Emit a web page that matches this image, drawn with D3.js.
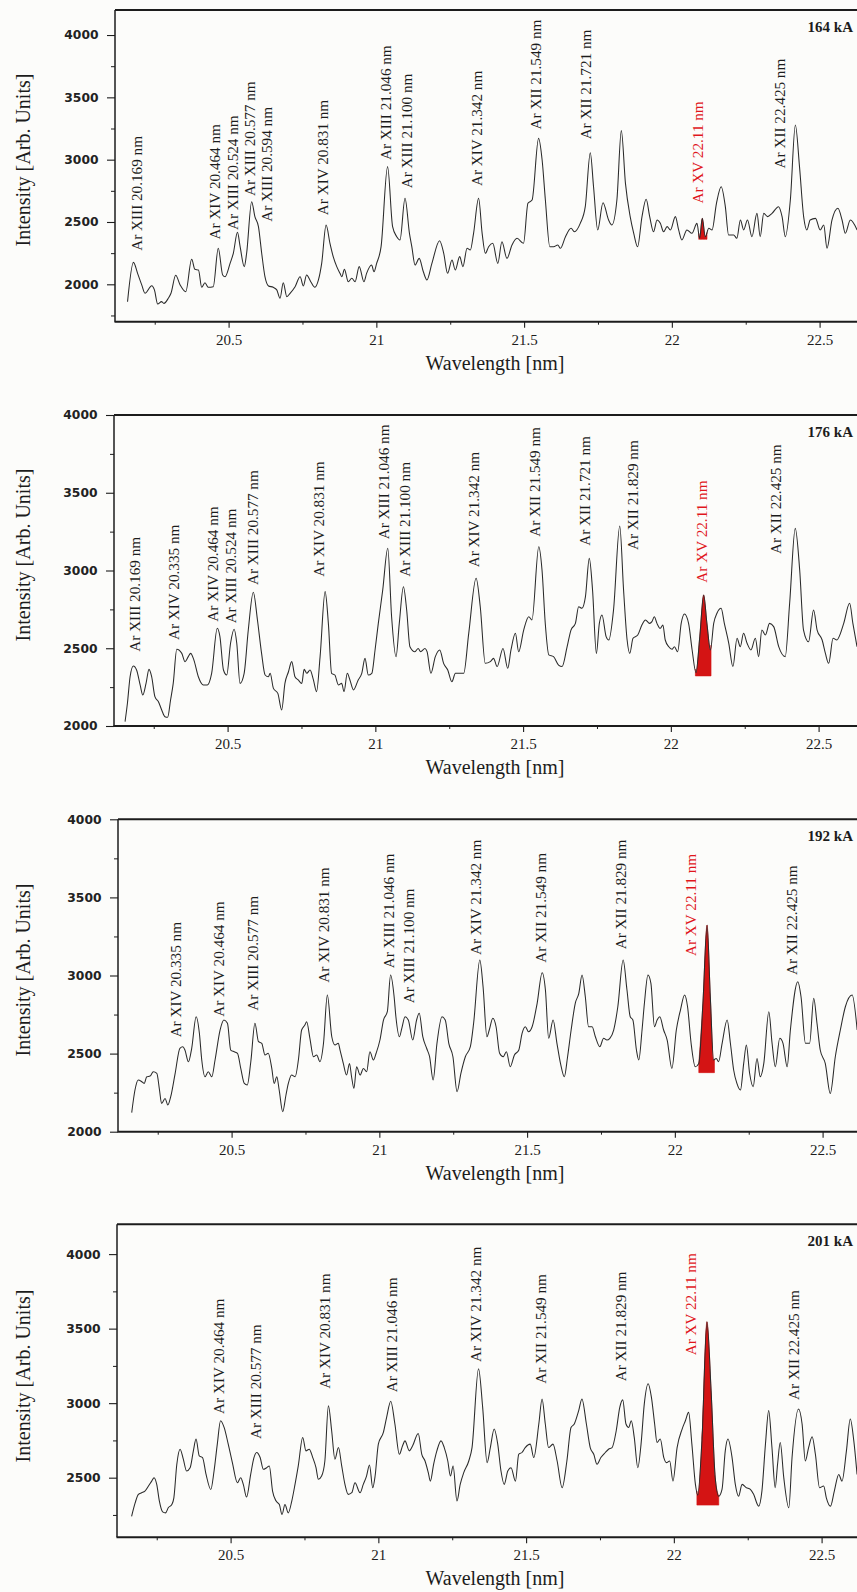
<!DOCTYPE html>
<html><head><meta charset="utf-8">
<script src="https://cdn.jsdelivr.net/npm/d3@7"></script>
<style>body{margin:0;background:#fcfcfa}svg{display:block}</style>
</head><body><svg id="c" width="857" height="1592"></svg>
<script>
// ---------- DATA ----------
const currents = ["164 kA", "176 kA", "192 kA", "201 kA"];
const yDomains = [[1700, 4200], [2000, 4000], [2000, 4000], [2100, 4200]];
const xMajorTicks = [20.5, 21, 21.5, 22, 22.5];
const xMinorTicks = [20.25, 20.75, 21.25, 21.75, 22.25];
const highlightLine = "Ar XV 22.11 nm";
// [from wavelength, to wavelength, base intensity] of the shaded Ar XV line
const highlightBands = [[22.091, 22.119, 2361], [22.083, 22.136, 2322], [22.081, 22.134, 2378], [22.078, 22.152, 2316]];

const spectrum164 = [[20.158,1860],[20.178,2176],[20.192,2088],[20.206,1995],[20.217,1928],[20.240,1989],[20.249,1955],[20.260,1842],[20.273,1861],[20.281,1847],[20.296,1888],[20.305,1928],[20.321,2072],[20.336,1995],[20.355,1941],[20.375,2201],[20.386,2120],[20.398,2115],[20.409,1976],[20.420,2013],[20.431,1976],[20.448,1981],[20.465,2289],[20.480,2075],[20.488,2061],[20.505,2168],[20.516,2249],[20.530,2417],[20.539,2302],[20.553,2142],[20.561,2249],[20.578,2663],[20.589,2543],[20.601,2463],[20.612,2249],[20.623,2061],[20.635,1987],[20.651,1976],[20.663,1955],[20.674,1888],[20.685,2013],[20.697,1901],[20.708,1928],[20.725,1981],[20.742,2061],[20.753,1987],[20.764,2075],[20.778,2021],[20.792,1976],[20.804,2035],[20.815,2168],[20.830,2476],[20.843,2329],[20.854,2222],[20.866,2142],[20.877,2088],[20.883,2061],[20.892,2120],[20.905,2021],[20.917,2048],[20.928,2021],[20.942,2142],[20.958,2021],[20.967,2088],[20.984,2155],[20.992,2101],[21.001,2168],[21.016,2302],[21.038,2944],[21.055,2463],[21.069,2382],[21.080,2356],[21.097,2690],[21.112,2409],[21.120,2302],[21.131,2155],[21.145,2208],[21.159,2101],[21.171,2035],[21.188,2168],[21.214,2350],[21.228,2249],[21.241,2088],[21.256,2195],[21.267,2115],[21.282,2222],[21.293,2142],[21.307,2289],[21.318,2275],[21.329,2409],[21.346,2690],[21.358,2409],[21.369,2249],[21.380,2302],[21.394,2329],[21.411,2168],[21.425,2342],[21.442,2208],[21.459,2315],[21.476,2369],[21.498,2329],[21.513,2650],[21.527,2676],[21.549,3171],[21.561,2997],[21.572,2676],[21.587,2302],[21.600,2302],[21.614,2315],[21.623,2289],[21.640,2382],[21.659,2449],[21.670,2422],[21.690,2489],[21.707,2623],[21.724,3056],[21.735,2783],[21.749,2436],[21.767,2655],[21.786,2516],[21.797,2476],[21.814,2676],[21.829,3233],[21.843,2810],[21.859,2543],[21.871,2409],[21.884,2302],[21.899,2543],[21.913,2682],[21.925,2543],[21.938,2422],[21.950,2516],[21.961,2489],[21.972,2422],[21.984,2463],[21.995,2436],[22.012,2543],[22.023,2436],[22.034,2356],[22.051,2436],[22.068,2409],[22.085,2489],[22.094,2369],[22.103,2529],[22.113,2382],[22.125,2449],[22.136,2436],[22.151,2650],[22.167,2783],[22.181,2623],[22.192,2396],[22.209,2396],[22.220,2369],[22.232,2516],[22.243,2436],[22.256,2516],[22.271,2382],[22.288,2569],[22.299,2382],[22.311,2569],[22.324,2543],[22.339,2569],[22.361,2623],[22.373,2543],[22.384,2382],[22.401,2676],[22.418,3278],[22.432,2944],[22.446,2543],[22.457,2436],[22.468,2516],[22.486,2529],[22.502,2436],[22.514,2476],[22.525,2289],[22.542,2516],[22.562,2610],[22.576,2516],[22.587,2409],[22.604,2516],[22.627,2436]];

const spectrum176 = [[20.153,2028],[20.161,2146],[20.170,2317],[20.181,2386],[20.192,2360],[20.204,2264],[20.213,2199],[20.224,2274],[20.234,2364],[20.243,2317],[20.254,2189],[20.266,2156],[20.277,2103],[20.288,2060],[20.297,2056],[20.307,2167],[20.316,2274],[20.328,2493],[20.345,2467],[20.356,2414],[20.367,2446],[20.375,2467],[20.386,2424],[20.401,2317],[20.418,2264],[20.431,2264],[20.446,2339],[20.465,2628],[20.474,2575],[20.486,2360],[20.497,2328],[20.510,2532],[20.522,2622],[20.531,2532],[20.542,2274],[20.556,2339],[20.570,2617],[20.587,2860],[20.601,2682],[20.615,2467],[20.627,2328],[20.638,2317],[20.644,2339],[20.655,2242],[20.670,2210],[20.683,2103],[20.694,2274],[20.706,2349],[20.717,2414],[20.728,2317],[20.739,2296],[20.751,2274],[20.759,2364],[20.768,2339],[20.779,2360],[20.790,2300],[20.801,2221],[20.813,2446],[20.830,2864],[20.841,2660],[20.852,2339],[20.863,2328],[20.875,2264],[20.886,2274],[20.894,2221],[20.905,2339],[20.914,2296],[20.926,2232],[20.942,2296],[20.954,2339],[20.965,2435],[20.976,2328],[20.988,2339],[20.999,2489],[21.010,2660],[21.025,2875],[21.042,3143],[21.055,2703],[21.070,2446],[21.081,2660],[21.095,2896],[21.106,2746],[21.117,2510],[21.134,2478],[21.145,2499],[21.153,2478],[21.168,2499],[21.175,2478],[21.188,2339],[21.203,2446],[21.218,2489],[21.231,2403],[21.245,2360],[21.259,2285],[21.271,2339],[21.288,2339],[21.299,2339],[21.316,2596],[21.341,2950],[21.355,2767],[21.372,2403],[21.389,2414],[21.400,2435],[21.412,2382],[21.432,2499],[21.448,2371],[21.459,2489],[21.474,2596],[21.485,2478],[21.502,2617],[21.519,2703],[21.530,2682],[21.553,3153],[21.564,3003],[21.575,2660],[21.587,2457],[21.603,2446],[21.620,2392],[21.632,2382],[21.649,2510],[21.662,2617],[21.677,2660],[21.688,2767],[21.699,2757],[21.711,2832],[21.724,3078],[21.735,2875],[21.748,2467],[21.758,2660],[21.767,2714],[21.781,2575],[21.790,2553],[21.806,2746],[21.827,3286],[21.840,2875],[21.852,2553],[21.861,2467],[21.872,2564],[21.888,2585],[21.902,2649],[21.914,2682],[21.928,2660],[21.936,2671],[21.944,2703],[21.953,2660],[21.964,2628],[21.973,2649],[21.981,2553],[21.993,2510],[22.004,2493],[22.012,2510],[22.023,2478],[22.035,2660],[22.046,2720],[22.060,2660],[22.072,2489],[22.085,2343],[22.098,2575],[22.111,2843],[22.122,2660],[22.134,2489],[22.145,2660],[22.156,2725],[22.170,2757],[22.181,2660],[22.196,2532],[22.210,2382],[22.224,2564],[22.235,2510],[22.246,2596],[22.258,2532],[22.271,2489],[22.286,2564],[22.297,2446],[22.308,2617],[22.320,2585],[22.334,2660],[22.348,2639],[22.365,2510],[22.387,2446],[22.402,2789],[22.421,3271],[22.436,3003],[22.449,2617],[22.466,2542],[22.483,2746],[22.495,2617],[22.512,2553],[22.523,2467],[22.534,2403],[22.549,2564],[22.562,2553],[22.574,2596],[22.585,2660],[22.605,2789],[22.616,2660],[22.630,2510]];

const spectrum192 = [[20.162,2122],[20.173,2267],[20.184,2331],[20.196,2320],[20.204,2309],[20.213,2352],[20.224,2356],[20.235,2384],[20.247,2374],[20.256,2267],[20.263,2181],[20.275,2213],[20.284,2171],[20.294,2224],[20.309,2374],[20.325,2534],[20.335,2544],[20.342,2523],[20.354,2448],[20.365,2534],[20.380,2736],[20.391,2630],[20.399,2459],[20.410,2352],[20.421,2384],[20.433,2352],[20.444,2459],[20.461,2651],[20.474,2715],[20.486,2694],[20.497,2523],[20.509,2512],[20.520,2502],[20.531,2405],[20.543,2309],[20.553,2299],[20.565,2448],[20.579,2694],[20.591,2576],[20.602,2566],[20.613,2491],[20.624,2502],[20.636,2405],[20.644,2309],[20.653,2352],[20.661,2267],[20.673,2128],[20.684,2235],[20.692,2309],[20.703,2363],[20.715,2352],[20.726,2459],[20.737,2651],[20.748,2683],[20.754,2704],[20.765,2598],[20.777,2480],[20.788,2491],[20.799,2448],[20.811,2566],[20.824,2875],[20.839,2608],[20.850,2555],[20.861,2566],[20.867,2523],[20.878,2437],[20.889,2363],[20.899,2437],[20.906,2352],[20.914,2277],[20.923,2416],[20.935,2363],[20.946,2405],[20.957,2384],[20.968,2512],[20.980,2459],[20.989,2502],[21.002,2587],[21.014,2715],[21.027,2768],[21.038,3003],[21.050,2864],[21.056,2736],[21.068,2608],[21.076,2662],[21.087,2736],[21.098,2715],[21.113,2587],[21.126,2715],[21.135,2758],[21.147,2608],[21.160,2534],[21.170,2480],[21.182,2331],[21.195,2566],[21.212,2736],[21.223,2715],[21.235,2566],[21.249,2480],[21.263,2256],[21.276,2374],[21.291,2480],[21.308,2544],[21.319,2694],[21.340,3099],[21.351,2928],[21.364,2608],[21.372,2651],[21.384,2726],[21.395,2672],[21.407,2502],[21.419,2480],[21.430,2512],[21.443,2416],[21.457,2491],[21.472,2523],[21.483,2630],[21.494,2672],[21.505,2640],[21.517,2672],[21.534,2822],[21.551,3018],[21.562,2907],[21.573,2598],[21.588,2715],[21.601,2566],[21.613,2437],[21.626,2352],[21.637,2480],[21.649,2651],[21.663,2822],[21.675,2886],[21.686,3003],[21.697,2864],[21.708,2672],[21.720,2672],[21.731,2608],[21.746,2544],[21.759,2598],[21.770,2587],[21.780,2598],[21.793,2651],[21.807,2800],[21.825,3099],[21.838,2907],[21.849,2736],[21.858,2715],[21.870,2523],[21.878,2459],[21.889,2651],[21.897,2822],[21.909,3003],[21.919,2950],[21.931,2672],[21.940,2715],[21.949,2736],[21.962,2651],[21.974,2587],[21.990,2405],[22.005,2651],[22.019,2779],[22.033,2875],[22.043,2800],[22.055,2566],[22.069,2416],[22.081,2437],[22.095,2822],[22.109,3323],[22.120,2864],[22.131,2459],[22.140,2469],[22.148,2448],[22.160,2566],[22.177,2715],[22.188,2566],[22.199,2395],[22.210,2309],[22.222,2267],[22.233,2437],[22.242,2555],[22.253,2374],[22.265,2288],[22.278,2469],[22.289,2352],[22.301,2437],[22.318,2768],[22.329,2566],[22.340,2416],[22.355,2598],[22.366,2566],[22.380,2416],[22.391,2651],[22.416,2960],[22.427,2864],[22.442,2566],[22.456,2566],[22.470,2854],[22.481,2694],[22.492,2523],[22.509,2437],[22.526,2245],[22.543,2480],[22.560,2651],[22.577,2800],[22.600,2875],[22.617,2651]];

const spectrum201 = [[20.165,2241],[20.177,2331],[20.188,2388],[20.199,2399],[20.210,2410],[20.222,2444],[20.233,2477],[20.241,2500],[20.250,2455],[20.259,2343],[20.270,2271],[20.280,2264],[20.289,2298],[20.301,2320],[20.308,2365],[20.318,2590],[20.329,2691],[20.340,2624],[20.351,2545],[20.363,2567],[20.374,2680],[20.383,2759],[20.394,2646],[20.405,2635],[20.417,2522],[20.433,2421],[20.444,2545],[20.455,2725],[20.466,2882],[20.478,2837],[20.492,2725],[20.506,2601],[20.523,2466],[20.534,2500],[20.543,2455],[20.554,2370],[20.568,2522],[20.579,2635],[20.588,2669],[20.600,2635],[20.611,2556],[20.622,2567],[20.631,2579],[20.642,2410],[20.654,2343],[20.665,2320],[20.674,2253],[20.684,2320],[20.695,2264],[20.707,2343],[20.718,2455],[20.729,2579],[20.744,2770],[20.755,2680],[20.766,2691],[20.778,2635],[20.789,2567],[20.797,2489],[20.808,2511],[20.819,2612],[20.831,2983],[20.842,2815],[20.853,2624],[20.865,2702],[20.876,2579],[20.887,2455],[20.898,2388],[20.910,2399],[20.921,2466],[20.938,2399],[20.949,2455],[20.960,2511],[20.970,2585],[20.981,2433],[20.989,2511],[21.000,2725],[21.017,2804],[21.028,2905],[21.042,3013],[21.056,2860],[21.071,2657],[21.082,2714],[21.090,2747],[21.105,2680],[21.116,2714],[21.135,2797],[21.147,2657],[21.158,2612],[21.169,2534],[21.176,2477],[21.187,2590],[21.198,2680],[21.212,2747],[21.223,2702],[21.235,2612],[21.244,2511],[21.253,2579],[21.266,2343],[21.277,2455],[21.289,2534],[21.306,2612],[21.317,2702],[21.339,3231],[21.353,2972],[21.368,2601],[21.379,2702],[21.392,2826],[21.404,2725],[21.415,2545],[21.426,2455],[21.438,2545],[21.449,2567],[21.464,2477],[21.475,2657],[21.486,2669],[21.497,2702],[21.514,2725],[21.526,2635],[21.543,2860],[21.554,3028],[21.565,2860],[21.576,2702],[21.591,2725],[21.605,2612],[21.622,2433],[21.638,2612],[21.652,2837],[21.663,2860],[21.678,2950],[21.689,3028],[21.704,2860],[21.717,2702],[21.729,2657],[21.740,2590],[21.753,2635],[21.768,2669],[21.779,2691],[21.791,2702],[21.805,2815],[21.817,2972],[21.827,3022],[21.838,2860],[21.847,2837],[21.856,2882],[21.866,2770],[21.878,2567],[21.889,2725],[21.900,2995],[21.913,3130],[21.924,3040],[21.935,2860],[21.943,2736],[21.954,2759],[21.966,2635],[21.975,2601],[21.986,2612],[21.997,2477],[22.011,2702],[22.028,2826],[22.039,2882],[22.050,2938],[22.061,2725],[22.073,2455],[22.081,2383],[22.095,2747],[22.112,3546],[22.126,3085],[22.140,2500],[22.152,2376],[22.163,2421],[22.174,2680],[22.183,2759],[22.197,2635],[22.208,2455],[22.219,2376],[22.231,2455],[22.245,2433],[22.259,2421],[22.270,2388],[22.287,2309],[22.298,2410],[22.310,2725],[22.321,2950],[22.332,2702],[22.343,2433],[22.351,2590],[22.360,2736],[22.372,2500],[22.389,2298],[22.400,2635],[22.422,2961],[22.434,2860],[22.445,2612],[22.456,2702],[22.468,2774],[22.479,2657],[22.493,2433],[22.507,2444],[22.516,2365],[22.530,2309],[22.543,2410],[22.558,2522],[22.569,2477],[22.584,2680],[22.597,2894],[22.609,2747],[22.620,2522]];

// line identifications: [text, wavelength position, intensity at the label's lower end]
const labels164 = [["Ar XIII 20.169 nm",20.189,2269],["Ar XIV 20.464 nm",20.454,2360],["Ar XIII 20.524 nm",20.513,2435],["Ar XIII 20.577 nm",20.572,2708],["Ar XIII 20.594 nm",20.629,2502],["Ar XIV 20.831 nm",20.820,2555],["Ar XIII 21.046 nm",21.032,2997],["Ar XIII 21.100 nm",21.103,2770],["Ar XIV 21.342 nm",21.338,2788],["Ar XII 21.549 nm",21.538,3243],["Ar XII 21.721 nm",21.707,3163],["Ar XV 22.11 nm",22.087,2649],["Ar XII 22.425 nm",22.364,2930]];
const labels176 = [["Ar XIII 20.169 nm",20.187,2478],["Ar XIV 20.335 nm",20.316,2553],["Ar XIV 20.464 nm",20.448,2671],["Ar XIII 20.524 nm",20.510,2660],["Ar XIII 20.577 nm",20.584,2907],["Ar XIV 20.831 nm",20.807,2960],["Ar XIII 21.046 nm",21.027,3201],["Ar XIII 21.100 nm",21.100,2960],["Ar XIV 21.342 nm",21.333,3021],["Ar XII 21.549 nm",21.538,3217],["Ar XII 21.721 nm",21.708,3159],["Ar XII 21.829 nm",21.871,3132],["Ar XV 22.11 nm",22.105,2922],["Ar XII 22.425 nm",22.356,3106]];
const labels192 = [["Ar XIV 20.335 nm",20.311,2604],["Ar XIV 20.464 nm",20.455,2736],["Ar XIII 20.577 nm",20.573,2775],["Ar XIV 20.831 nm",20.810,2954],["Ar XIII 21.046 nm",21.030,3046],["Ar XIII 21.100 nm",21.098,2822],["Ar XIV 21.342 nm",21.325,3131],["Ar XII 21.549 nm",21.545,3082],["Ar XII 21.829 nm",21.818,3168],["Ar XV 22.11 nm",22.052,3125],["Ar XII 22.425 nm",22.394,3003]];
const labels201 = [["Ar XIV 20.464 nm",20.458,2928],["Ar XIII 20.577 nm",20.585,2759],["Ar XIV 20.831 nm",20.819,3096],["Ar XIII 21.046 nm",21.045,3073],["Ar XIV 21.342 nm",21.331,3276],["Ar XII 21.549 nm",21.548,3130],["Ar XII 21.829 nm",21.821,3147],["Ar XV 22.11 nm",22.056,3321],["Ar XII 22.425 nm",22.406,3022]];

const spectra = [spectrum164, spectrum176, spectrum192, spectrum201];
const lineLabels = [labels164, labels176, labels192, labels201];

// ---------- LAYOUT ----------
const W = 857, H = 1592;
const tops = [10.1, 415, 819.3, 1224.3];
const bottoms = [321.7, 726, 1131.7, 1537.3];
const xShift = [0, -1, 3, 2];
const yTitleCy = [160, 555, 970, 1376];
const SERIF = "'Liberation Serif','Times New Roman',Times,serif";
const SANS = "'DejaVu Sans',Verdana,sans-serif";
const INK = "#1c1c1c";
const RED = "#e0161c";

const svg = d3.select("#c");
svg.append("rect").attr("width", W).attr("height", H).attr("fill", "#fcfcfa");

spectra.forEach((data, i) => {
  const s = xShift[i];
  const x = d3.scaleLinear().domain([20.5, 22.5]).range([228.6 + s, 819.6 + s]);
  const y = d3.scaleLinear().domain(yDomains[i]).range([bottoms[i], tops[i]]);
  const left = 115 + s, top = tops[i], bottom = bottoms[i];
  const g = svg.append("g");

  const clipId = "clip" + i;
  svg.append("clipPath").attr("id", clipId).append("rect")
    .attr("x", left).attr("y", top).attr("width", W - left + 20).attr("height", bottom - top);

  // y ticks
  const [d0, d1] = yDomains[i];
  const yMajor = d3.range(Math.ceil(d0 / 500) * 500, d1 + 1, 500);
  const yMinor = d3.range(Math.ceil(d0 / 250) * 250, d1 + 1, 250).filter(v => v % 500 !== 0);
  const yAx = g.append("g").attr("transform", `translate(${left},0)`)
    .call(d3.axisLeft(y).tickValues(yMajor).tickSize(8).tickPadding(8.5).tickFormat(d3.format("d")));
  yAx.select(".domain").remove();
  yAx.selectAll("line").attr("stroke", INK).attr("stroke-width", 1.1);
  yAx.selectAll("text").attr("font-family", SANS).attr("font-size", 12.3).attr("font-weight", "bold").attr("fill", "#222");
  const yAxm = g.append("g").attr("transform", `translate(${left},0)`)
    .call(d3.axisLeft(y).tickValues(yMinor).tickSize(4).tickFormat(""));
  yAxm.select(".domain").remove();
  yAxm.selectAll("line").attr("stroke", INK).attr("stroke-width", 1);

  // x ticks
  const xAx = g.append("g").attr("transform", `translate(0,${bottom})`)
    .call(d3.axisBottom(x).tickValues(xMajorTicks).tickSize(6).tickPadding(6.3).tickFormat(d => String(d)));
  xAx.select(".domain").remove();
  xAx.selectAll("line").attr("stroke", INK).attr("stroke-width", 1.1);
  xAx.selectAll("text").attr("font-family", SERIF).attr("font-size", 15).attr("fill", INK);
  const xAxm = g.append("g").attr("transform", `translate(0,${bottom})`)
    .call(d3.axisBottom(x).tickValues(xMinorTicks).tickSize(3).tickFormat(""));
  xAxm.select(".domain").remove();
  xAxm.selectAll("line").attr("stroke", INK).attr("stroke-width", 1);

  const plot = g.append("g").attr("clip-path", `url(#${clipId})`);

  // highlighted Ar XV band
  const [b0, b1, base] = highlightBands[i];
  const interp = w => {
    const k = d3.bisector(d => d[0]).left(data, w);
    const a = data[k - 1], b = data[k];
    return [w, a[1] + (b[1] - a[1]) * (w - a[0]) / (b[0] - a[0])];
  };
  const band = [interp(b0), ...data.filter(d => d[0] > b0 && d[0] < b1), interp(b1)];
  plot.append("path").datum(band)
    .attr("d", d3.area().x(d => x(d[0])).y0(y(base)).y1(d => y(d[1])).curve(d3.curveMonotoneX))
    .attr("fill", "#d41414").attr("stroke", "#d41414").attr("stroke-width", 0.6);

  // spectrum
  plot.append("path").datum(data)
    .attr("d", d3.line().x(d => x(d[0])).y(d => y(d[1])).curve(d3.curveMonotoneX))
    .attr("fill", "none").attr("stroke", "#2a2a2a").attr("stroke-width", 1.05).attr("stroke-linejoin", "round");

  // frame
  g.append("line").attr("x1", left).attr("x2", W + 10).attr("y1", top).attr("y2", top)
    .attr("stroke", INK).attr("stroke-width", 2);
  g.append("line").attr("x1", left - 0.5).attr("x2", W + 10).attr("y1", bottom).attr("y2", bottom)
    .attr("stroke", INK).attr("stroke-width", 2);
  g.append("line").attr("x1", left).attr("x2", left).attr("y1", top).attr("y2", bottom)
    .attr("stroke", INK).attr("stroke-width", 1.5);

  // line identifications
  lineLabels[i].forEach(([txt, w, v]) => {
    g.append("text")
      .attr("transform", `translate(${x(w)},${y(v)}) rotate(-90)`)
      .attr("dy", "0.35em")
      .attr("font-family", SERIF).attr("font-size", 15.2)
      .attr("fill", txt === highlightLine ? RED : INK)
      .text(txt);
  });

  // current label
  g.append("text").attr("x", 853).attr("y", top + 22).attr("text-anchor", "end")
    .attr("font-family", SERIF).attr("font-size", 15).attr("font-weight", "bold").attr("fill", INK)
    .text(currents[i]);

  // axis titles
  g.append("text").attr("transform", `translate(23,${yTitleCy[i]}) rotate(-90)`)
    .attr("dy", "0.35em").attr("text-anchor", "middle")
    .attr("font-family", SERIF).attr("font-size", 20).attr("fill", INK)
    .text("Intensity [Arb. Units]");
  g.append("text").attr("x", 495).attr("y", bottom + 48).attr("text-anchor", "middle")
    .attr("font-family", SERIF).attr("font-size", 20).attr("fill", INK)
    .text("Wavelength [nm]");
});
</script>
</body></html>
